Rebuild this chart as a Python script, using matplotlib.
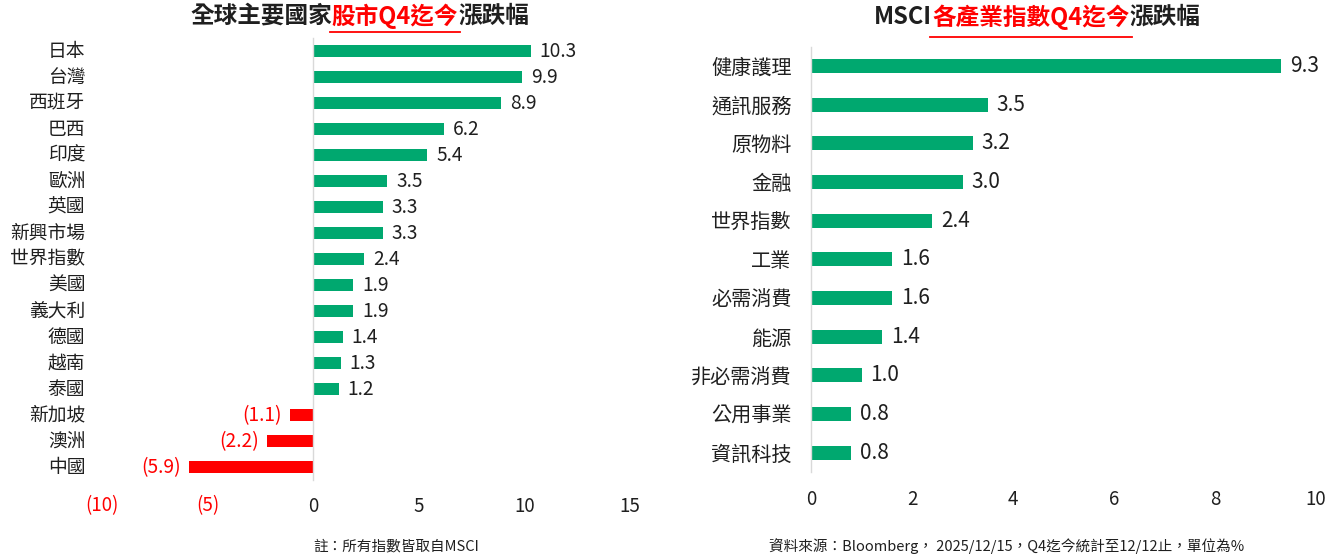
import matplotlib
matplotlib.use("Agg")
import matplotlib.pyplot as plt
from matplotlib.lines import Line2D

plt.rcParams['font.family'] = ['Noto Sans CJK TC', 'DejaVu Sans']

# ---------------- data ----------------
countries = ['日本', '台灣', '西班牙', '巴西', '印度', '歐洲', '英國', '新興市場', '世界指數',
             '美國', '義大利', '德國', '越南', '泰國', '新加坡', '澳洲', '中國']
country_chg = [10.3, 9.9, 8.9, 6.2, 5.4, 3.5, 3.3, 3.3, 2.4, 1.9, 1.9, 1.4, 1.3, 1.2, -1.1, -2.2, -5.9]
country_ticks = [-10, -5, 0, 5, 10, 15]

sectors = ['健康護理', '通訊服務', '原物料', '金融', '世界指數', '工業', '必需消費', '能源',
           '非必需消費', '公用事業', '資訊科技']
sector_chg = [9.3, 3.5, 3.2, 3.0, 2.4, 1.6, 1.6, 1.4, 1.0, 0.8, 0.8]
sector_ticks = [0, 2, 4, 6, 8, 10]

left_title = [('全球主要國家', 'dark'), ('股市Q4迄今', 'red'), ('漲跌幅', 'dark')]
right_title = [('MSCI', 'dark'), ('各產業指數Q4迄今', 'red'), ('漲跌幅', 'dark')]
left_note = '註：所有指數皆取自MSCI'
right_note = '資料來源：Bloomberg， 2025/12/15，Q4迄今統計至12/12止，單位為%'

# ---------------- style ----------------
W, H = 1330, 556
GREEN = '#00A86F'
RED = '#FF0000'
DARK = '#1F1F1F'
SPINE = '#D9D9D9'
cmap = {'dark': DARK, 'red': RED}


def fmt(v):
    return f'({abs(v):.1f})' if v < 0 else f'{v:.1f}'


def tfmt(v):
    return f'({abs(v):d})' if v < 0 else f'{v:d}'


fig = plt.figure(figsize=(W / 100, H / 100), dpi=100)


def add_axes_px(x0, x1, ytop, ybot):
    return fig.add_axes([x0 / W, 1 - ybot / H, (x1 - x0) / W, (ybot - ytop) / H])


def style_axes(ax):
    for s in ['top', 'right', 'bottom']:
        ax.spines[s].set_visible(False)
    ax.spines['left'].set_color(SPINE)
    ax.spines['left'].set_linewidth(1.0)
    ax.tick_params(axis='both', length=0)


# ---------------- left chart ----------------
axL = add_axes_px(102.3, 629.8, 38.0, 480.3)
ypos = list(range(len(countries)))
colorsL = [GREEN if v >= 0 else RED for v in country_chg]
axL.barh(ypos, country_chg, height=0.46, color=colorsL)
axL.set_xlim(-10, 15)
axL.set_ylim(len(countries) - 0.5, -0.5)
style_axes(axL)
axL.spines['left'].set_position(('data', 0))
axL.set_yticks(ypos)
axL.set_yticklabels([])
for i, name in enumerate(countries):
    axL.annotate(name, xy=(0, i), xycoords=('axes fraction', 'data'),
                 xytext=(-17, 0), textcoords='offset pixels',
                 ha='right', va='center', fontsize=13.5, color=DARK)
for i, v in enumerate(country_chg):
    off = 9 if v >= 0 else -8
    axL.annotate(fmt(v), xy=(v, i), xytext=(off, 0), textcoords='offset pixels',
                 ha='left' if v >= 0 else 'right', va='center',
                 fontsize=13.8, color=DARK if v >= 0 else RED)
axL.set_xticks(country_ticks)
axL.set_xticklabels([tfmt(t) for t in country_ticks], fontsize=13.5)
for lab, t in zip(axL.get_xticklabels(), country_ticks):
    lab.set_color(RED if t < 0 else DARK)
axL.tick_params(axis='x', pad=11)

# ---------------- right chart ----------------
axR = add_axes_px(811.0, 1316.0, 46.7, 472.0)
yposR = list(range(len(sectors)))
axR.barh(yposR, sector_chg, height=0.36, color=GREEN)
axR.set_xlim(0, 10)
axR.set_ylim(len(sectors) - 0.5, -0.5)
style_axes(axR)
axR.set_yticks(yposR)
axR.set_yticklabels(sectors, fontsize=14.5, color=DARK)
axR.tick_params(axis='y', pad=14)
for i, v in enumerate(sector_chg):
    axR.annotate(fmt(v), xy=(v, i), xytext=(9, 0), textcoords='offset pixels',
                 ha='left', va='center', fontsize=15, color=DARK)
axR.set_xticks(sector_ticks)
axR.set_xticklabels([tfmt(t) for t in sector_ticks], fontsize=13.5, color=DARK)
axR.tick_params(axis='x', pad=12)

# ---------------- titles ----------------
renderer = fig.canvas.get_renderer()


def rich_title(x_px, y_px, parts, size, uline_y):
    x = x_px
    for s, c in parts:
        t = fig.text(x / W, 1 - y_px / H, s, color=cmap[c], fontsize=size,
                     fontweight='bold', ha='left', va='center')
        bb = t.get_window_extent(renderer)
        if c == 'red':
            fig.add_artist(Line2D([(bb.x0 - 2) / W, (bb.x1 + 2) / W],
                                  [1 - uline_y / H] * 2, transform=fig.transFigure,
                                  color=RED, lw=1.3))
        x = bb.x1


rich_title(190, 16, left_title, 17, 32)
rich_title(874, 17, right_title, 17, 37)

# ---------------- notes ----------------
fig.text(396 / W, 1 - 546 / H, left_note, fontsize=10.5, color=DARK, ha='center', va='center')
fig.text(1007 / W, 1 - 546 / H, right_note, fontsize=10.5, color=DARK, ha='center', va='center')

fig.savefig('out.png', dpi=100)
